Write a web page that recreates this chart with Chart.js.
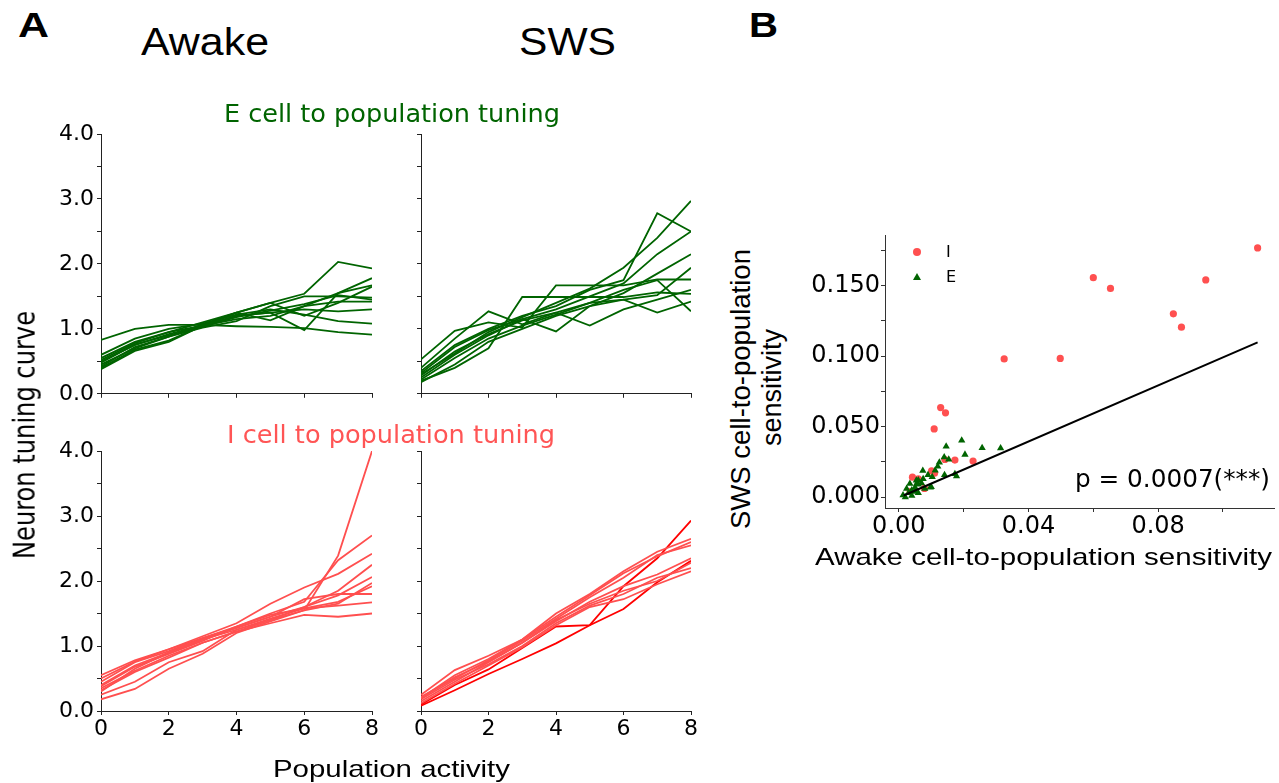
<!DOCTYPE html>
<html>
<head>
<meta charset="utf-8">
<script src="https://cdn.jsdelivr.net/npm/chart.js@4.4.1/dist/chart.umd.min.js"></script>
<style>
    html, body { margin: 0; padding: 0; background: #fff; }
    body { position: relative; width: 1279px; height: 783px; overflow: hidden; }
    canvas { position: absolute; }
    .lbl { position: absolute; white-space: nowrap; line-height: 1; transform-origin: 0 0; }
</style>
</head>
<body>
<script>
// --- data ---
const popActivity = [0, 1, 2, 3, 4, 5, 6, 7, 8];

// E cells, awake
const eAwake = [
    [0.83, 1.00, 1.06, 1.06, 1.04, 1.03, 1.01, 0.95, 0.91],
    [0.55, 0.80, 0.95, 1.10, 1.25, 1.40, 1.54, 2.03, 1.93],
    [0.50, 0.75, 0.92, 1.05, 1.20, 1.25, 0.98, 1.55, 1.67],
    [0.40, 0.68, 0.82, 1.05, 1.25, 1.13, 1.35, 1.42, 1.42],
    [0.45, 0.70, 0.88, 1.02, 1.12, 1.35, 1.50, 1.50, 1.48],
    [0.60, 0.85, 1.00, 1.08, 1.22, 1.30, 1.22, 1.12, 1.08],
    [0.38, 0.66, 0.80, 1.05, 1.20, 1.25, 1.30, 1.27, 1.30],
    [0.52, 0.78, 0.95, 1.05, 1.15, 1.20, 1.35, 1.55, 1.78],
    [0.48, 0.76, 0.90, 1.03, 1.18, 1.28, 1.38, 1.52, 1.45],
    [0.42, 0.72, 0.88, 1.07, 1.25, 1.40, 1.20, 1.40, 1.65]
];
// E cells, SWS
const eSws = [
    [0.30, 0.62, 0.95, 1.18, 1.40, 1.62, 1.94, 2.40, 2.97],
    [0.35, 0.75, 1.00, 1.20, 1.35, 1.60, 1.75, 2.78, 2.50],
    [0.25, 0.60, 0.90, 1.15, 1.30, 1.50, 1.70, 2.15, 2.50],
    [0.53, 0.97, 1.10, 1.02, 1.67, 1.67, 1.67, 1.76, 1.76],
    [0.40, 0.85, 1.27, 1.07, 1.25, 1.40, 1.60, 1.75, 1.27],
    [0.20, 0.40, 0.70, 1.49, 1.49, 1.49, 1.49, 1.56, 1.54],
    [0.32, 0.72, 0.98, 1.15, 0.96, 1.35, 1.45, 1.25, 1.42],
    [0.28, 0.65, 0.92, 1.13, 1.25, 1.05, 1.30, 1.45, 1.60],
    [0.22, 0.55, 0.85, 1.05, 1.22, 1.40, 1.45, 1.52, 1.94],
    [0.18, 0.45, 0.80, 1.00, 1.20, 1.35, 1.55, 1.85, 2.15]
];
// I cells, awake
const iAwake = [
    [0.30, 0.65, 0.90, 1.10, 1.25, 1.40, 1.55, 2.39, 4.00],
    [0.45, 0.75, 0.92, 1.12, 1.30, 1.50, 1.68, 2.32, 2.70],
    [0.55, 0.78, 0.95, 1.15, 1.35, 1.65, 1.90, 2.11, 2.42],
    [0.40, 0.70, 0.90, 1.10, 1.28, 1.45, 1.60, 1.85, 2.25],
    [0.35, 0.62, 0.85, 1.05, 1.22, 1.40, 1.60, 1.78, 2.06],
    [0.18, 0.34, 0.65, 0.88, 1.20, 1.38, 1.55, 1.65, 1.97],
    [0.25, 0.45, 0.75, 0.92, 1.25, 1.42, 1.58, 1.68, 1.92],
    [0.50, 0.76, 0.95, 1.12, 1.28, 1.45, 1.72, 1.80, 1.80],
    [0.38, 0.68, 0.88, 1.08, 1.30, 1.48, 1.58, 1.62, 1.67],
    [0.32, 0.60, 0.82, 1.05, 1.22, 1.35, 1.48, 1.45, 1.50]
];
// I cells, SWS (light and the two darker ones)
const iSwsLight = [
    [0.25, 0.63, 0.85, 1.10, 1.50, 1.80, 2.15, 2.45, 2.65],
    [0.20, 0.55, 0.80, 1.10, 1.45, 1.78, 2.12, 2.38, 2.60],
    [0.22, 0.50, 0.78, 1.08, 1.42, 1.75, 2.05, 2.40, 2.55],
    [0.15, 0.45, 0.75, 1.05, 1.38, 1.68, 1.92, 2.10, 2.35],
    [0.18, 0.48, 0.72, 1.00, 1.35, 1.62, 1.80, 2.05, 2.20],
    [0.12, 0.42, 0.70, 0.98, 1.32, 1.60, 1.72, 1.95, 2.15],
    [0.20, 0.52, 0.76, 1.05, 1.40, 1.65, 1.85, 2.00, 2.28]
];
const iSwsDark = [
    [0.08, 0.32, 0.57, 0.80, 1.04, 1.32, 1.57, 1.98, 2.31],
    [0.10, 0.40, 0.64, 0.97, 1.30, 1.32, 1.92, 2.35, 2.93]
];

const tuningTicks = [0, 0.5, 1, 1.5, 2, 2.5, 3, 3.5, 4];
const popTicks = [0, 2, 4, 6, 8];

// scatter: [awake, sws] sensitivity
const iPoints = [
    [0.1107, 0.1767], [0.0600, 0.1556], [0.0653, 0.1480], [0.0947, 0.1540],
    [0.0847, 0.1300], [0.0872, 0.1205], [0.0325, 0.0980], [0.0498, 0.0984],
    [0.0129, 0.0635], [0.0144, 0.0598], [0.0109, 0.0484], [0.0173, 0.0263],
    [0.0229, 0.0256], [0.0142, 0.0267], [0.0101, 0.0186], [0.0042, 0.0142],
    [0.0079, 0.0062], [0.0110, 0.0170], [0.0060, 0.0130], [0.0035, 0.0040]
];
const ePoints = [
    [0.0194, 0.0403], [0.0146, 0.0360], [0.0257, 0.0349], [0.0314, 0.0347],
    [0.0204, 0.0302], [0.0140, 0.0284], [0.0154, 0.0267], [0.0125, 0.0246],
    [0.0120, 0.0218], [0.0112, 0.0190], [0.0074, 0.0188], [0.0141, 0.0158],
    [0.0173, 0.0165], [0.0178, 0.0149], [0.0103, 0.0144], [0.0090, 0.0158],
    [0.0097, 0.0070], [0.0100, 0.0072], [0.0013, 0.0014], [0.0030, 0.0030],
    [0.0040, 0.0050], [0.0050, 0.0070], [0.0060, 0.0090], [0.0034, 0.0096],
    [0.0054, 0.0119], [0.0060, 0.0120], [0.0070, 0.0100], [0.0024, 0.0060],
    [0.0020, 0.0000], [0.0050, 0.0040], [0.0080, 0.0060], [0.0060, 0.0030],
    [0.0040, 0.0010], [0.0075, 0.0130], [0.0055, 0.0095]
];
const fitLine = [[0.0015, 0.0012], [0.1107, 0.1098]];

const sensXTicks = [0, 0.02, 0.04, 0.06, 0.08, 0.10];
const sensYTicks = [0, 0.025, 0.05, 0.075, 0.1, 0.125, 0.15, 0.175];

const GREEN = '#006400';
const RED_LIGHT = '#ff4f4f';
const RED_DARK = '#ff0000';

Chart.defaults.font.family = 'DejaVu Sans';
Chart.defaults.color = '#000';

function makeCanvas(box) {
    const c = document.createElement('canvas');
    c.width = box.w;
    c.height = box.h;
    c.style.left = box.left + 'px';
    c.style.top = box.top + 'px';
    document.body.appendChild(c);
    return c.getContext('2d');
}

function isMultiple(v, step) {
    return Math.abs(v / step - Math.round(v / step)) < 1e-6;
}

function axisLines(color) {
    return {
        grid: { display: true, drawOnChartArea: false, drawTicks: true, tickLength: 4, color: color, lineWidth: 1 },
        border: { display: true, color: color, width: 1 }
    };
}

// one tuning-curve panel; area = where the axes should sit on the page
function linePanel(box, area, groups, showY, showX) {
    const ctx = makeCanvas(box);
    const datasets = [];
    groups.forEach(g => {
        g.series.forEach(s => {
            datasets.push({
                data: popActivity.map((x, i) => ({ x: x, y: s[i] })),
                borderColor: g.color,
                borderWidth: 1.8,
                pointRadius: 0,
                tension: 0,
                fill: false
            });
        });
    });
    new Chart(ctx, {
        type: 'line',
        data: { datasets: datasets },
        options: {
            responsive: false,
            animation: false,
            events: [],
            layout: { padding: { top: area.top - box.top, right: box.left + box.w - area.right, left: 0, bottom: 0 } },
            plugins: { legend: { display: false }, tooltip: { enabled: false } },
            scales: {
                x: {
                    type: 'linear', min: 0, max: 8,
                    ...axisLines('#222'),
                    afterBuildTicks: s => { s.ticks = popTicks.map(v => ({ value: v })); },
                    ticks: {
                        callback: v => showX ? String(v) : '',
                        font: { size: 22 }, padding: 1, maxRotation: 0, autoSkip: false, color: '#000'
                    },
                    afterFit: s => { s.height = box.top + box.h - area.bottom; }
                },
                y: {
                    min: 0, max: 4,
                    ...axisLines('#222'),
                    afterBuildTicks: s => { s.ticks = tuningTicks.map(v => ({ value: v })); },
                    ticks: {
                        callback: v => (showY && isMultiple(v, 1)) ? v.toFixed(1) : '',
                        font: { size: 22 }, padding: 3, autoSkip: false, color: '#000'
                    },
                    afterFit: s => { s.width = area.left - box.left; }
                }
            }
        }
    });
}

linePanel({ left: 30, top: 110, w: 350, h: 300 }, { left: 101, top: 134, right: 372, bottom: 394 },
    [{ series: eAwake, color: GREEN }], true, false);
linePanel({ left: 400, top: 110, w: 300, h: 300 }, { left: 421, top: 134, right: 691, bottom: 394 },
    [{ series: eSws, color: GREEN }], false, false);
linePanel({ left: 30, top: 430, w: 350, h: 330 }, { left: 101, top: 451, right: 372, bottom: 711 },
    [{ series: iAwake, color: RED_LIGHT }], true, true);
linePanel({ left: 400, top: 430, w: 300, h: 330 }, { left: 421, top: 451, right: 691, bottom: 711 },
    [{ series: iSwsLight, color: RED_LIGHT }, { series: iSwsDark, color: RED_DARK }], false, true);

// panel B scatter
(function () {
    const box = { left: 790, top: 220, w: 489, h: 325 };
    const area = { left: 885, top: 231, right: 1279, bottom: 508 };
    const ctx = makeCanvas(box);
    new Chart(ctx, {
        type: 'scatter',
        data: {
            datasets: [
                {
                    label: 'I', order: 3,
                    data: iPoints.map(p => ({ x: p[0], y: p[1] })),
                    pointStyle: 'circle', pointRadius: 3.6, backgroundColor: '#ff5050', borderWidth: 0
                },
                {
                    label: 'E', order: 2,
                    data: ePoints.map(p => ({ x: p[0], y: p[1] })),
                    pointStyle: 'triangle', pointRadius: 4.2, backgroundColor: GREEN, borderWidth: 0
                },
                {
                    label: 'fit', order: 1, type: 'line', showLine: true,
                    data: fitLine.map(p => ({ x: p[0], y: p[1] })),
                    borderColor: '#000', borderWidth: 2, pointRadius: 0, tension: 0
                }
            ]
        },
        options: {
            responsive: false,
            animation: false,
            events: [],
            layout: { padding: { top: area.top - box.top, right: box.left + box.w - area.right, left: 0, bottom: 0 } },
            plugins: { legend: { display: false }, tooltip: { enabled: false } },
            scales: {
                x: {
                    type: 'linear', min: -0.00427, max: 0.116,
                    ...axisLines('#333'),
                    afterBuildTicks: s => { s.ticks = sensXTicks.map(v => ({ value: v })); },
                    ticks: {
                        callback: v => isMultiple(v, 0.04) ? v.toFixed(2) : '',
                        font: { size: 24 }, padding: 0, maxRotation: 0, autoSkip: false, color: '#000'
                    },
                    afterFit: s => { s.height = box.top + box.h - area.bottom; }
                },
                y: {
                    type: 'linear', min: -0.00768, max: 0.1856,
                    ...axisLines('#333'),
                    afterBuildTicks: s => { s.ticks = sensYTicks.map(v => ({ value: v })); },
                    ticks: {
                        callback: v => isMultiple(v, 0.05) ? v.toFixed(3) : '',
                        font: { size: 24 }, padding: 1, autoSkip: false, color: '#000'
                    },
                    afterFit: s => { s.width = area.left - box.left; }
                }
            }
        }
    });
})();

// --- text labels, fitted to the extents measured on the figure ---
function addLabel(t) {
    const el = document.createElement('div');
    el.className = 'lbl';
    el.textContent = t.text;
    el.style.fontFamily = t.family || 'DejaVu Sans';
    el.style.fontSize = t.size + 'px';
    el.style.fontWeight = t.weight || 'normal';
    el.style.color = t.color || '#000';
    document.body.appendChild(el);
    const natural = el.getBoundingClientRect().width;
    const sx = t.len ? t.len / natural : 1;
    const sy = t.sy || 1;
    const len = natural * sx;
    const asc = 0.846 * t.size * sy;
    if (t.rot) {
        // rotated -90deg, text runs bottom to top; x = baseline, cy = centre of the run
        el.style.left = (t.x - asc) + 'px';
        el.style.top = (t.cy + len / 2) + 'px';
        el.style.transform = `rotate(-90deg) scale(${sx}, ${sy})`;
    } else {
        const left = t.cx !== undefined ? t.cx - len / 2 : t.x;
        el.style.left = left + 'px';
        el.style.top = (t.y - asc) + 'px';
        el.style.transform = `scale(${sx}, ${sy})`;
    }
}

const labels = [
    { text: 'A', family: 'Liberation Sans', weight: 'bold', size: 35, x: 18, y: 37, len: 31 },
    { text: 'Awake', family: 'Liberation Sans', size: 38, x: 141, y: 55, len: 128 },
    { text: 'SWS', family: 'Liberation Sans', size: 38, x: 519, y: 55, len: 97 },
    { text: 'B', family: 'Liberation Sans', weight: 'bold', size: 35, x: 749, y: 37, len: 29 },
    { text: 'E cell to population tuning', size: 24, x: 224, y: 122, len: 336, color: GREEN },
    { text: 'I cell to population tuning', size: 24, x: 227, y: 443, len: 328, color: '#ff5555' },
    { text: 'Neuron tuning curve', size: 25, rot: true, x: 35, cy: 435, len: 248, sy: 1.18 },
    { text: 'Population activity', family: 'Liberation Sans', size: 24, x: 273, y: 777, len: 237 },
    { text: 'SWS cell-to-population', family: 'Liberation Sans', size: 27, rot: true, x: 751, cy: 389, len: 280, sy: 1.05 },
    { text: 'sensitivity', family: 'Liberation Sans', size: 27, rot: true, x: 782, cy: 387, sy: 1.05 },
    { text: 'Awake cell-to-population sensitivity', family: 'Liberation Sans', size: 24, x: 815, y: 565, len: 457 },
    { text: 'p = 0.0007(***)', size: 25, x: 1075, y: 487, len: 195 },
    { text: 'I', size: 16, x: 946, y: 258 },
    { text: 'E', size: 16, x: 946, y: 283 }
];
labels.forEach(addLabel);

// legend markers for the scatter
const dot = document.createElement('div');
dot.style.cssText = 'position:absolute;left:913px;top:248px;width:8px;height:8px;border-radius:50%;background:#ff5050;';
document.body.appendChild(dot);
const tri = document.createElement('div');
tri.style.cssText = 'position:absolute;left:913px;top:273px;width:8px;height:7px;background:' + GREEN + ';clip-path:polygon(50% 0,100% 100%,0 100%);';
document.body.appendChild(tri);
</script>
</body>
</html>
